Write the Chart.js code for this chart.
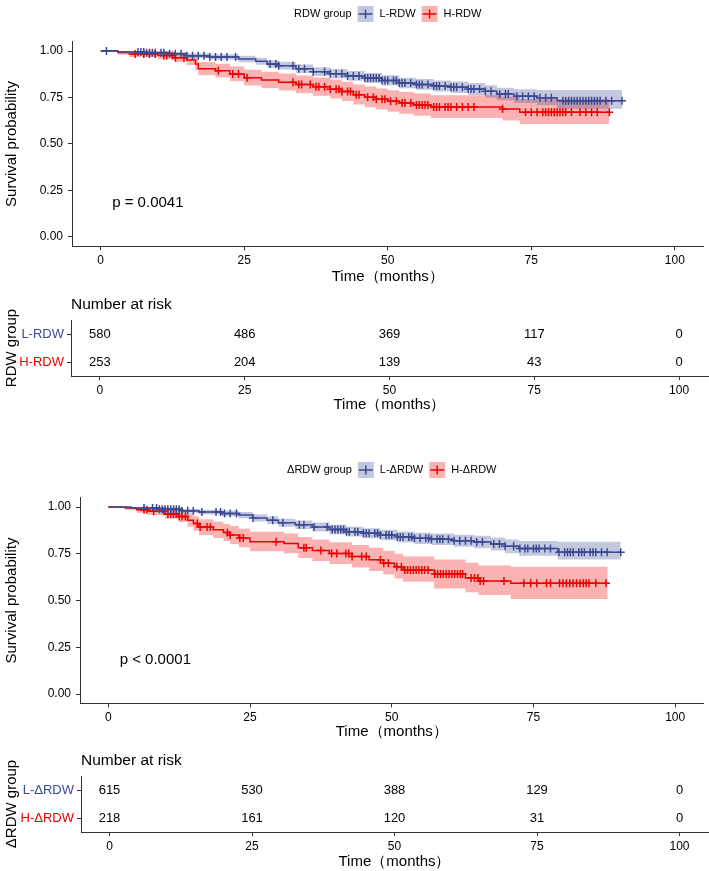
<!DOCTYPE html>
<html><head><meta charset="utf-8">
<script src="https://cdn.jsdelivr.net/npm/chart.js@4.4.1/dist/chart.umd.min.js"></script>
<style>
html,body{margin:0;padding:0;background:#fff;}
#wrap{position:relative;width:709px;height:871px;overflow:hidden;background:#fff;}
canvas{position:absolute;left:0;top:0;}
</style></head><body>
<div id="wrap">
<canvas id="km1" width="709" height="871"></canvas>
<canvas id="risk1" width="709" height="871"></canvas>
<canvas id="km2" width="709" height="871"></canvas>
<canvas id="risk2" width="709" height="871"></canvas>
</div>
<script>
// ---------- data ----------
const timeTicks = [0, 25, 50, 75, 100];
const survTicks = [0, 0.25, 0.5, 0.75, 1];

// RDW groups
const rdwGroups = ['L-RDW', 'H-RDW'];
const rdwL_time  = [0,3,8,12,15,19,24,27,29,31,34,37,40,43,46,49,52,55,58,61,64,67,69,72,76,79.5,90.8];
const rdwL_surv  = [1,0.995,0.99,0.985,0.975,0.968,0.957,0.945,0.93,0.921,0.905,0.889,0.878,0.866,0.855,0.842,0.828,0.82,0.812,0.805,0.796,0.783,0.769,0.757,0.748,0.733,0.733];
const rdwL_lower = [1,0.99,0.982,0.975,0.962,0.953,0.94,0.926,0.91,0.9,0.882,0.865,0.853,0.84,0.828,0.814,0.8,0.791,0.782,0.774,0.764,0.75,0.735,0.721,0.71,0.69,0.69];
const rdwL_upper = [1,1,0.998,0.995,0.988,0.982,0.974,0.964,0.95,0.942,0.928,0.913,0.903,0.892,0.882,0.87,0.856,0.849,0.842,0.836,0.828,0.816,0.803,0.795,0.79,0.79,0.79];
const rdwL_censor = [1,6.5,7,7.5,8,8.5,9,9.5,10.5,11,12,13,14,15,16,17,18,19,20,21,22,23.5,29.5,30.5,31,33.5,34.5,35.5,37,39,40,41,42,43,44,45,46,46.5,47,47.5,48,48.5,49,49.5,50,51,51.5,52,52.5,53,54,55,55.5,56,57,58,58.5,59,60,61,61.5,62,63,64,64.5,65,66,67,68,69.5,70.5,71,72.5,73.5,74.5,75.5,76.5,77.5,78.5,80.5,81,81.5,82,82.5,83,83.5,84,84.5,85,85.5,86,86.5,87,88,89,90.8];

const rdwH_time  = [0,3,5,10,13,15,16.5,17,20,22.5,25,28,31,34,37,40,42,44,46,48,50,52,54.5,57.5,70,73,88.6];
const rdwH_surv  = [1,0.992,0.984,0.976,0.964,0.952,0.93,0.905,0.894,0.877,0.856,0.844,0.832,0.82,0.808,0.795,0.782,0.765,0.752,0.74,0.73,0.72,0.71,0.699,0.688,0.671,0.671];
const rdwH_lower = [1,0.98,0.968,0.955,0.94,0.925,0.898,0.869,0.857,0.838,0.814,0.8,0.787,0.773,0.759,0.745,0.731,0.712,0.698,0.685,0.674,0.663,0.652,0.64,0.627,0.607,0.607];
const rdwH_upper = [1,1,1,0.996,0.988,0.979,0.962,0.941,0.932,0.917,0.899,0.889,0.879,0.868,0.858,0.847,0.835,0.82,0.809,0.798,0.789,0.78,0.772,0.762,0.754,0.74,0.74];
const rdwH_censor = [6,7.5,8.5,9.5,11,11.5,12.5,13,14.5,20.5,23,24,25.5,33.5,34.5,35,36.5,37.5,38,39,40,41,41.5,42,43,43.5,44.5,45,46.5,47.5,48,49,49.5,50.5,51.5,52.5,53,54,55,55.5,56,56.5,57,58,58.5,59,60,60.5,61,62,63,64,65,70,74,75,76,77,77.5,78,78.5,79,79.5,80,80.5,81,82,83.5,84.5,85.5,86.5,88.6];

const rdwRisk_L = [580, 486, 369, 117, 0];
const rdwRisk_H = [253, 204, 139, 43, 0];

// ΔRDW groups
const drdwGroups = ['L-ΔRDW', 'H-ΔRDW'];
const drdwL_time  = [0,4,9,13,16,20,23,25.5,28,30,33,36,39,42,45,48,51,54,57,61,64.5,67.5,70,72.5,79.3,90.4];
const drdwL_surv  = [1,0.995,0.988,0.98,0.973,0.966,0.957,0.942,0.93,0.916,0.905,0.893,0.88,0.868,0.86,0.85,0.84,0.833,0.828,0.82,0.813,0.802,0.79,0.779,0.758,0.758];
const drdwL_lower = [1,0.99,0.979,0.969,0.96,0.951,0.94,0.923,0.909,0.894,0.882,0.869,0.855,0.842,0.833,0.822,0.811,0.803,0.797,0.788,0.78,0.767,0.753,0.74,0.72,0.72];
const drdwL_upper = [1,1,0.997,0.991,0.986,0.981,0.974,0.961,0.951,0.938,0.928,0.917,0.905,0.894,0.887,0.878,0.869,0.863,0.859,0.852,0.846,0.837,0.827,0.818,0.815,0.815];
const drdwL_censor = [6.3,7.8,8.5,9,9.5,10,10.5,11,11.5,12,12.5,13,14,15,16.5,19,19.8,20.5,21.5,22.6,25.5,29,30.8,33.7,34.5,36.3,38.6,39.5,40,40.5,41,41.5,42,42.5,43.5,44,45,45.5,46,47,47.5,48,49,49.5,50,51,51.5,52,53,53.5,54,55,56,56.5,57,58,58.5,59,60,61,62,63,64,65,66,68,69,70,71.5,72.6,73.5,74,75,75.5,76,77,78,79.5,80.5,81,81.5,82,83,83.5,84,85,85.5,86,87,88,90.4];

const drdwH_time  = [0,3,5,7,10,12.5,14,15,16,18.5,20.3,21.5,23,25,31,33.5,36,39,43,46,48.5,50.5,52,57.5,63,65.3,71,88.1];
const drdwH_surv  = [1,0.995,0.986,0.977,0.963,0.95,0.93,0.912,0.893,0.878,0.864,0.85,0.834,0.815,0.805,0.782,0.767,0.752,0.735,0.718,0.7,0.681,0.664,0.642,0.62,0.604,0.592,0.592];
const drdwH_lower = [1,0.985,0.97,0.957,0.937,0.92,0.895,0.873,0.851,0.834,0.818,0.803,0.785,0.764,0.753,0.728,0.712,0.695,0.677,0.658,0.639,0.618,0.6,0.565,0.545,0.53,0.508,0.508];
const drdwH_upper = [1,1,1,0.997,0.989,0.98,0.965,0.951,0.935,0.922,0.91,0.898,0.884,0.868,0.859,0.84,0.826,0.812,0.797,0.782,0.766,0.75,0.735,0.72,0.702,0.688,0.681,0.681];
const drdwH_censor = [6.3,6.8,8,9.8,10.5,11,11.5,12,12.5,13,13.6,15.7,16.2,17.4,18,21,21.5,23.2,23.8,29.6,34.5,34.9,37.5,39.4,40.3,41.9,42.4,43,44.7,45.5,48,48.6,49.4,50.9,51.7,52.3,52.8,53.3,53.8,54.3,54.8,55.3,55.8,56.4,57.6,58.1,58.6,59.1,59.6,60.1,60.6,61.1,61.6,62.1,62.5,64,64.6,65.2,65.6,66.2,69.8,73.3,74.5,75.6,77.3,78,79.6,80.2,80.8,81.4,82,82.6,83.2,83.8,84.3,84.8,86,87.8];

const drdwRisk_L = [615, 530, 388, 129, 0];
const drdwRisk_H = [218, 161, 120, 31, 0];

// ---------- styling ----------
const FONT = '"Liberation Sans", Arial, sans-serif';
const BLUE = '#3B4992', RED = '#EE0000';
const BLUE_F = 'rgba(59,73,146,0.3)', RED_F = 'rgba(238,0,0,0.3)';
Chart.defaults.font.family = FONT;

function pts(times, vals) { return times.map((t, i) => ({ x: t, y: vals[i] })); }
function stepAt(times, vals, t) { let v = vals[0]; for (let i = 0; i < times.length; i++) { if (times[i] <= t) v = vals[i]; } return v; }

function axisCommon(fixed) {
  return {
    grid: { drawOnChartArea: false, drawTicks: true, tickLength: 4, color: '#333', lineWidth: 1 },
    border: { display: true, color: '#333', width: 1 },
  };
}

const legendPlugin = {
  id: 'kmLegend',
  afterDraw(chart, args, o) {
    if (!o || !o.title) return;
    const ctx = chart.ctx, ca = chart.chartArea;
    ctx.save();
    ctx.font = '11px ' + FONT;
    ctx.textBaseline = 'middle';
    ctx.fillStyle = '#000';
    const key = 16, gap = 6;
    const tw = ctx.measureText(o.title).width;
    const lw = o.labels.map(l => ctx.measureText(l).width);
    let total = tw;
    lw.forEach(w => { total += gap + key + gap + w; });
    let x = (ca.left + ca.right) / 2 - total / 2;
    const y = o.y;
    ctx.textAlign = 'left';
    ctx.fillText(o.title, x, y);
    x += tw + gap;
    o.labels.forEach((l, i) => {
      ctx.fillStyle = o.fills[i];
      ctx.fillRect(x, y - key / 2, key, key);
      ctx.strokeStyle = o.colors[i];
      ctx.lineWidth = 1.5;
      ctx.beginPath();
      ctx.moveTo(x + 1, y); ctx.lineTo(x + key - 1, y);
      ctx.moveTo(x + key / 2, y - 4.5); ctx.lineTo(x + key / 2, y + 4.5);
      ctx.stroke();
      x += key + gap;
      ctx.fillStyle = '#000';
      ctx.fillText(l, x, y);
      x += lw[i] + gap;
    });
    ctx.restore();
  }
};

const pvalPlugin = {
  id: 'pval',
  afterDraw(chart, args, o) {
    if (!o || !o.text) return;
    const ctx = chart.ctx;
    ctx.save();
    ctx.font = '15px ' + FONT;
    ctx.fillStyle = '#000';
    ctx.textAlign = 'left';
    ctx.textBaseline = 'middle';
    ctx.fillText(o.text, chart.scales.x.getPixelForValue(o.x), chart.scales.y.getPixelForValue(o.y));
    ctx.restore();
  }
};

const riskPlugin = {
  id: 'riskText',
  afterDatasetsDraw(chart, args, o) {
    const ctx = chart.ctx;
    ctx.save();
    ctx.font = '13px ' + FONT;
    ctx.fillStyle = '#000';
    ctx.textAlign = 'center';
    ctx.textBaseline = 'middle';
    chart.data.datasets.forEach((ds, i) => {
      const meta = chart.getDatasetMeta(i);
      meta.data.forEach((el, j) => { ctx.fillText(String(ds.data[j].n), el.x, el.y); });
    });
    if (o && o.title) {
      ctx.font = '15.5px ' + FONT;
      ctx.textAlign = 'left';
      ctx.fillText(o.title, chart.chartArea.left, chart.chartArea.top - 15);
    }
    ctx.restore();
  }
};

function makeKM(id, box, series, legend, pval) {
  const datasets = [];
  series.forEach(s => {
    datasets.push({ data: pts(s.time, s.upper), stepped: true, borderColor: 'transparent', borderWidth: 0, pointRadius: 0, backgroundColor: s.fill, fill: '+1', order: 10 });
    datasets.push({ data: pts(s.time, s.lower), stepped: true, borderColor: 'transparent', borderWidth: 0, pointRadius: 0, fill: false, order: 10 });
  });
  series.forEach(s => {
    datasets.push({ data: pts(s.time, s.surv), stepped: true, borderColor: s.color, borderWidth: 1.5, pointRadius: 0, fill: false, order: 5 });
  });
  series.forEach(s => {
    datasets.push({ data: s.censor.map(t => ({ x: t, y: stepAt(s.time, s.surv, t) })), showLine: false, pointStyle: 'cross', pointRadius: 4, pointBorderWidth: 1.5, borderColor: s.color, backgroundColor: s.color, fill: false, order: 1 });
  });
  return new Chart(document.getElementById(id), {
    type: 'line',
    data: { datasets },
    options: {
      responsive: false, devicePixelRatio: 1, animation: false,
      events: [],
      layout: { padding: { left: 0, top: box.top, right: 709 - box.right, bottom: 871 - box.scaleBottom } },
      scales: {
        x: Object.assign(axisCommon(), {
          type: 'linear', min: -5, max: 105,
          afterBuildTicks: sc => { sc.ticks = timeTicks.map(v => ({ value: v })); },
          afterFit: sc => { sc.height = box.scaleBottom - box.bottom; },
          ticks: { color: '#000', font: { size: 12 }, padding: 3, maxRotation: 0, autoSkip: false },
          title: { display: true, text: 'Time（months）', color: '#000', font: { size: 15 }, padding: { top: 0, bottom: 0 } }
        }),
        y: Object.assign(axisCommon(), {
          type: 'linear', min: -0.05, max: 1.05,
          afterBuildTicks: sc => { sc.ticks = survTicks.map(v => ({ value: v })); },
          afterFit: sc => { sc.width = box.left; },
          ticks: { color: '#000', font: { size: 12 }, padding: 5, callback: v => Number(v).toFixed(2) },
          title: { display: true, text: 'Survival probability', color: '#000', font: { size: 15 }, padding: { top: 3, bottom: 0 } }
        })
      },
      plugins: { legend: { display: false }, tooltip: { enabled: false }, kmLegend: legend, pval: pval }
    },
    plugins: [legendPlugin, pvalPlugin]
  });
}

function makeRisk(id, box, groups, risks, colors, yTitle) {
  const datasets = groups.map((g, gi) => ({
    data: timeTicks.map((t, j) => ({ x: t, y: g, n: risks[gi][j] })),
    showLine: false, pointRadius: 0, borderColor: 'transparent'
  }));
  return new Chart(document.getElementById(id), {
    type: 'line',
    data: { datasets },
    options: {
      responsive: false, devicePixelRatio: 1, animation: false,
      events: [],
      layout: { padding: { left: 0, top: box.top, right: 709 - box.right, bottom: 871 - box.scaleBottom } },
      scales: {
        x: Object.assign(axisCommon(), {
          type: 'linear', min: -5, max: 105,
          afterBuildTicks: sc => { sc.ticks = timeTicks.map(v => ({ value: v })); },
          afterFit: sc => { sc.height = box.scaleBottom - box.bottom; },
          ticks: { color: '#000', font: { size: 12 }, padding: 3, maxRotation: 0, autoSkip: false },
          title: { display: true, text: 'Time（months）', color: '#000', font: { size: 15 }, padding: { top: 0, bottom: 0 } }
        }),
        y: Object.assign(axisCommon(), {
          type: 'category', labels: groups, offset: true,
          afterFit: sc => { sc.width = box.left; },
          ticks: { color: c => colors[c.index], font: { size: 13 }, padding: 3 },
          title: { display: true, text: yTitle, color: '#000', font: { size: 15 }, padding: { top: 3, bottom: 0 } }
        })
      },
      plugins: { legend: { display: false }, tooltip: { enabled: false }, riskText: { title: 'Number at risk' } }
    },
    plugins: [riskPlugin]
  });
}

makeKM('km1', { left: 72, top: 41.7, right: 705, bottom: 246.3, scaleBottom: 286 }, [
  { time: rdwL_time, surv: rdwL_surv, lower: rdwL_lower, upper: rdwL_upper, censor: rdwL_censor, color: BLUE, fill: BLUE_F },
  { time: rdwH_time, surv: rdwH_surv, lower: rdwH_lower, upper: rdwH_upper, censor: rdwH_censor, color: RED, fill: RED_F }
], { title: 'RDW group', labels: rdwGroups, colors: [BLUE, RED], fills: [BLUE_F, RED_F], y: 14 },
   { text: 'p = 0.0041', x: 2, y: 0.185 });

makeRisk('risk1', { left: 71, top: 320, right: 708, bottom: 376, scaleBottom: 414 }, rdwGroups, [rdwRisk_L, rdwRisk_H], [BLUE, RED], 'RDW group');

makeKM('km2', { left: 80, top: 497.7, right: 708.7, bottom: 703.4, scaleBottom: 741 }, [
  { time: drdwL_time, surv: drdwL_surv, lower: drdwL_lower, upper: drdwL_upper, censor: drdwL_censor, color: BLUE, fill: BLUE_F },
  { time: drdwH_time, surv: drdwH_surv, lower: drdwH_lower, upper: drdwH_upper, censor: drdwH_censor, color: RED, fill: RED_F }
], { title: 'ΔRDW group', labels: drdwGroups, colors: [BLUE, RED], fills: [BLUE_F, RED_F], y: 470 },
   { text: 'p < 0.0001', x: 2, y: 0.185 });

makeRisk('risk2', { left: 81, top: 776, right: 708, bottom: 832, scaleBottom: 871 }, drdwGroups, [drdwRisk_L, drdwRisk_H], [BLUE, RED], 'ΔRDW group');
</script>
</body></html>
